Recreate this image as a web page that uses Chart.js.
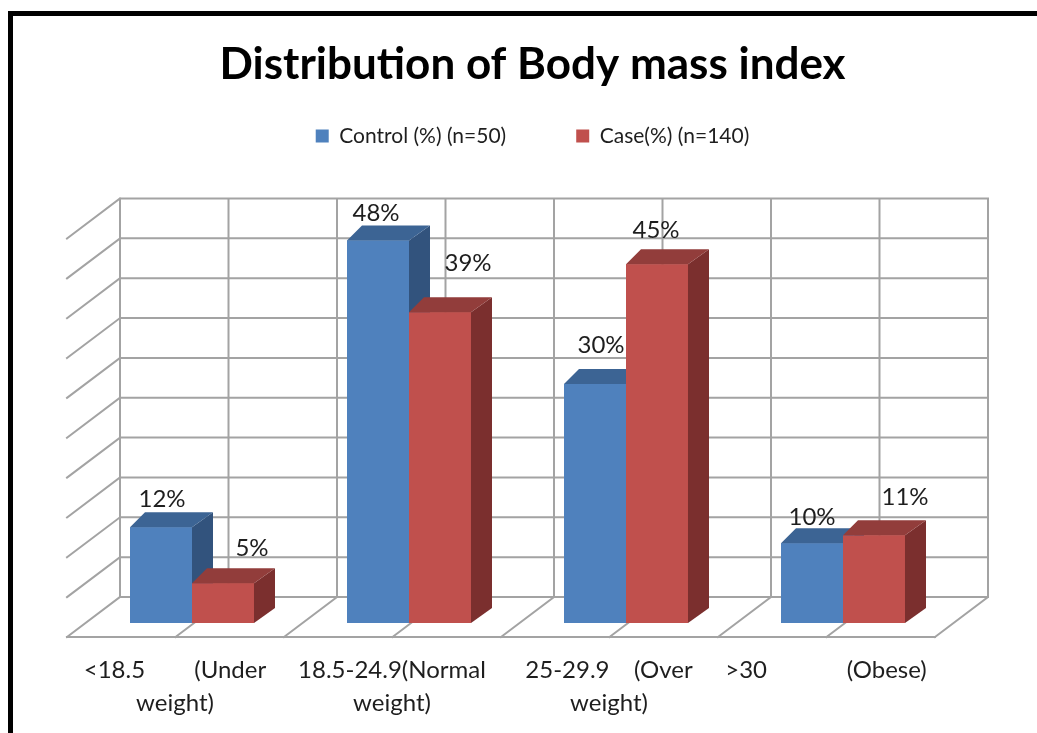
<!DOCTYPE html>
<html><head><meta charset="utf-8">
<script src="https://cdn.jsdelivr.net/npm/chart.js@4.4.1/dist/chart.umd.min.js"></script>
<style>
html,body{margin:0;padding:0;background:#fff;overflow:hidden;}
#wrap{position:absolute;left:0;top:0;width:1037px;height:733px;background:#fff;}
#frame{position:absolute;left:8px;top:11px;width:1100px;height:800px;border-left:5px solid #000;border-top:5px solid #000;pointer-events:none;}
canvas{position:absolute;left:0;top:0;}
</style></head><body>
<div id="wrap"><canvas id="c" width="1037" height="733"></canvas><div id="frame"></div></div>
<script>
// ---- data ----
const categories = [
  ['<18.5        (Under', 'weight)'],
  ['18.5-24.9(Normal', 'weight)'],
  ['25-29.9    (Over', 'weight)'],
  ['>30             (Obese)']
];
const seriesNames = ['Control (%) (n=50)', 'Case(%) (n=140)'];
const controlValues = [12, 48, 30, 10];
const caseValues = [5, 39, 45, 11];
const yTicks = { min: 0, max: 50, step: 5 };

// ---- styling ----
const FRONT = ['#4f81bd', '#c0504d'];
const TOP = ['#3c6494', '#923d3b'];
const SIDE = ['#32537d', '#7b2f2e'];
const GRID = '#a3a3a3';
const DX_L = 15, DX_R = 21, DY = -15;            // bar depth
const BACK_DX = 36.5, BACK_DY = -26;            // back wall offset from bar plane
const FLOOR_DX = -53, FLOOR_DY = 40;            // wall-to-front depth
const FONT = 'Lato, "Open Sans", sans-serif';

const walls = {
  id: 'walls',
  beforeDatasetsDraw(chart) {
    const { ctx, scales: { x, y }, chartArea: a } = chart;
    const L = a.left + BACK_DX, R = a.right + BACK_DX;
    const yb = v => y.getPixelForValue(v) + BACK_DY;
    ctx.save();
    ctx.strokeStyle = GRID; ctx.lineWidth = 2; ctx.lineCap = 'square';
    ctx.beginPath();
    y.ticks.forEach(t => {
      const yy = yb(t.value);
      ctx.moveTo(L, yy); ctx.lineTo(R, yy);
      ctx.moveTo(L, yy); ctx.lineTo(L + FLOOR_DX, yy + FLOOR_DY);
    });
    const n = chart.data.labels.length * 2;
    for (let i = 0; i <= n; i++) {
      const xx = L + (R - L) * i / n;
      ctx.moveTo(xx, yb(y.max)); ctx.lineTo(xx, yb(0));
      ctx.lineTo(xx + FLOOR_DX, yb(0) + FLOOR_DY);
    }
    ctx.moveTo(L + FLOOR_DX, yb(0) + FLOOR_DY); ctx.lineTo(R + FLOOR_DX, yb(0) + FLOOR_DY);
    ctx.stroke();
    ctx.restore();
  }
};

// label nudges relative to (bar centre, front top) : [category][series]
const labelNudge = [[[1, -28], [29, -35]], [[-2, -27], [28, -49]], [[6, -39], [-1, -34]], [[0, -26], [31, -38]]];

const bars3d = {
  id: 'bars3d',
  afterDatasetsDraw(chart) {
    const { ctx } = chart;
    const n = chart.data.labels.length;
    const metas = chart.data.datasets.map((d, i) => chart.getDatasetMeta(i));
    ctx.save();
    for (let j = 0; j < n; j++) {
      metas.forEach((m, di) => {
        const el = m.data[j];
        const { x, y, base, width } = el.getProps(['x', 'y', 'base', 'width'], true);
        const l = x - width / 2, r = x + width / 2;
        ctx.fillStyle = FRONT[di];
        ctx.fillRect(l, y, width, base - y);
        ctx.fillStyle = SIDE[di];
        ctx.beginPath(); ctx.moveTo(r, y); ctx.lineTo(r + DX_R, y + DY); ctx.lineTo(r + DX_R, base + DY); ctx.lineTo(r, base); ctx.closePath(); ctx.fill();
        ctx.fillStyle = TOP[di];
        ctx.beginPath(); ctx.moveTo(l, y); ctx.lineTo(r, y); ctx.lineTo(r + DX_R, y + DY); ctx.lineTo(l + DX_L, y + DY); ctx.closePath(); ctx.fill();
      });
    }
    // data labels
    ctx.fillStyle = '#1e1e1e';
    ctx.font = '24px ' + FONT;
    ctx.textAlign = 'center'; ctx.textBaseline = 'middle';
    for (let j = 0; j < n; j++) {
      metas.forEach((m, di) => {
        const el = m.data[j];
        const { x, y } = el.getProps(['x', 'y'], true);
        const v = chart.data.datasets[di].data[j];
        const [dx, dy] = labelNudge[j][di];
        ctx.fillText(v + '%', x + dx, y + dy);
      });
    }
    ctx.restore();
  }
};

new Chart(document.getElementById('c'), {
  type: 'bar',
  data: {
    labels: categories,
    datasets: [
      { label: seriesNames[0], data: controlValues, backgroundColor: FRONT[0], borderWidth: 0 },
      { label: seriesNames[1], data: caseValues, backgroundColor: FRONT[1], borderWidth: 0 }
    ]
  },
  options: {
    responsive: false,
    animation: false,
    events: [],
    layout: { padding: { left: 28, right: 0, top: 0, bottom: 0 } },
    datasets: { bar: { categoryPercentage: 0.5714, barPercentage: 1.0 } },
    scales: {
      x: {
        grid: { display: false, drawTicks: false },
        border: { display: false },
        ticks: {
          color: '#1e1e1e', padding: 30.5, labelOffset: -17, maxRotation: 0, autoSkip: false,
          font: { family: FONT, size: 24, lineHeight: 1.375 }
        },
        afterFit: s => { s.height = 110; }
      },
      y: {
        min: yTicks.min, max: yTicks.max,
        ticks: { stepSize: yTicks.step, display: false },
        grid: { display: false },
        border: { display: false },
        afterFit: s => { s.width = 55.5; }
      },
      y2: {
        position: 'right',
        ticks: { display: false },
        grid: { display: false },
        border: { display: false },
        afterFit: s => { s.width = 85.5; }
      }
    },
    plugins: {
      tooltip: { enabled: false },
      title: {
        display: true, text: 'Distribution of Body mass index', color: '#000',
        font: { family: FONT, size: 44, weight: 'bold', lineHeight: 1.2 },
        padding: { top: 38.6, bottom: -35.9 }
      },
      legend: {
        display: true, position: 'top',
        labels: {
          color: '#1e1e1e', boxWidth: 13, boxHeight: 13, padding: 70,
          font: { family: FONT, size: 21 }
        }
      },
      subtitle: {
        display: true, text: '', weight: 500,
        font: { size: 10, lineHeight: 1 },
        padding: { top: 0, bottom: 58 }
      }
    }
  },
  plugins: [walls, bars3d]
});
</script>
</body></html>
